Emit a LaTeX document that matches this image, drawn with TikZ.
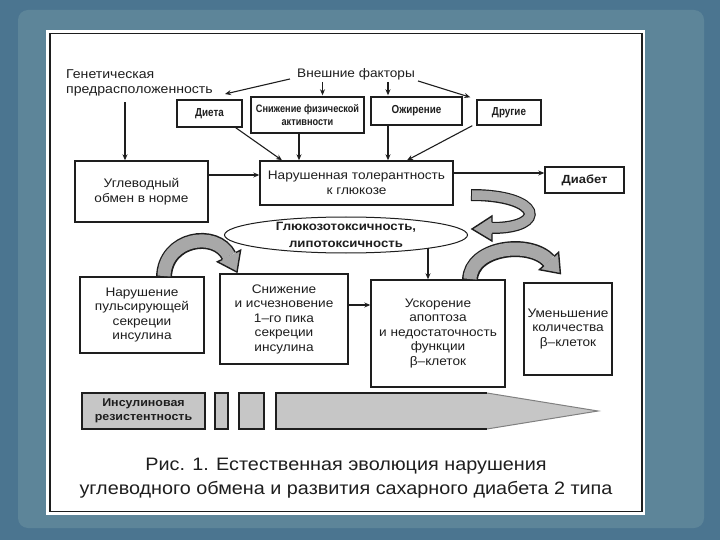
\documentclass[tikz,border=0pt]{standalone}
\usepackage{fontspec}
\setmainfont{Liberation Sans}[FakeStretch=1.1]
\newfontfamily\condf{Liberation Sans}[FakeStretch=0.85]
\usetikzlibrary{arrows.meta,shapes.geometric,calc}
\definecolor{bgblue}{HTML}{4B7590}
\definecolor{bglight}{HTML}{5D8599}
\definecolor{ribgray}{HTML}{A8A8A8}
\definecolor{bargray}{HTML}{C6C6C6}
\definecolor{ink}{HTML}{1E1E1E}
\tikzset{
  box/.style={draw=ink, line width=1.4pt, fill=white, inner sep=0pt, align=center, text=ink,
    font=\fontsize{12.4}{14.5}\selectfont},
  sbox/.style={box, font=\condf\bfseries\fontsize{11.6}{13}\selectfont},
  con/.style={draw=ink, line width=1.1pt, -{Stealth[length=6pt,width=5pt]}},
  ribout/.style={line width=16pt, ink},
  ribin/.style={line width=13pt, ribgray},
  ribfill/.style={fill=ribgray},
  ribedge/.style={draw=ink, line width=1.4pt, line join=miter},
  barbox/.style={draw=ink, fill=bargray, line width=1.4pt, inner sep=0pt, minimum height=36pt},
}
\begin{document}
\begin{tikzpicture}[x=1pt,y=-1pt]
\useasboundingbox (0,0) rectangle (720,540);
\fill[bgblue] (0,0) rectangle (720,540);
\fill[bglight, rounded corners=10pt] (18,10) rectangle (704,528);
\fill[white] (46,30) rectangle (645,515);
\draw[ink, line width=1.5pt] (50,33.5) rectangle (642,511.5);

% top texts
\node[anchor=west, align=left, text=ink, inner sep=0pt, font=\fontsize{12.8}{15}\selectfont] (gen) at (66,83) {Генетическая\\предрасположенность};
\node[text=ink, inner sep=0pt, font=\fontsize{12.4}{15}\selectfont] (ext) at (356,74) {Внешние факторы};

% factor boxes
\node[sbox, minimum width=65pt, minimum height=27pt] (diet) at (209.5,113.5) {Диета};
\node[sbox, minimum width=113pt, minimum height=36pt, font=\condf\bfseries\fontsize{10.8}{13}\selectfont] (snf) at (307.5,115) {Снижение физической\\активности};
\node[sbox, minimum width=91pt, minimum height=28pt] (ob) at (416.5,111) {Ожирение};
\node[sbox, minimum width=64pt, minimum height=25pt] (oth) at (509,112.5) {Другие};

% middle row
\node[box, minimum width=133pt, minimum height=61pt, font=\fontsize{12.4}{15}\selectfont] (ugl) at (141.5,191.5) {Углеводный\\обмен в норме};
\node[box, minimum width=193pt, minimum height=44pt, font=\fontsize{12.4}{15}\selectfont] (nar) at (356.5,183) {Нарушенная толерантность\\к глюкозе};
\node[box, minimum width=79pt, minimum height=26pt, font=\bfseries\fontsize{11.8}{14}\selectfont] (dia) at (584.5,180) {Диабет};

\node[ellipse, draw=ink, line width=1pt, fill=white, minimum width=243pt, minimum height=36pt, inner sep=0pt, align=center, text=ink,
  font=\bfseries\fontsize{12}{17}\selectfont] (glu) at (346,235) {Глюкозотоксичность,\\липотоксичность};

% bottom row
\node[box, minimum width=124pt, minimum height=76pt] (pul) at (142,315) {Нарушение\\пульсирующей\\секреции\\инсулина};
\node[box, minimum width=128pt, minimum height=90pt] (sni) at (284,319) {Снижение\\и исчезновение\\1–го пика\\секреции\\инсулина};
\node[box, minimum width=134pt, minimum height=107pt] (usk) at (438,333.5) {Ускорение\\апоптоза\\и недостаточность\\функции\\β–клеток};
\node[box, minimum width=88pt, minimum height=92pt] (umn) at (568,329) {Уменьшение\\количества\\β–клеток};

% connectors
\coordinate (dietin) at (225,94);
\draw[con] ([xshift=-7pt,yshift=1pt]ext.south west) -- (dietin);
\draw[con] ([xshift=15pt,yshift=-2pt]snf.north |- ext.south) -- ([xshift=15pt,yshift=1pt]snf.north);
\draw[con] ([xshift=-28.5pt,yshift=-2pt]ob.north |- ext.south) -- ([xshift=-28.5pt,yshift=1pt]ob.north);
\draw[con] ([xshift=3pt,yshift=-1pt]ext.south east) -- ([xshift=-6pt,yshift=2pt]oth.north west);
\draw[con] ([xshift=-16.5pt,yshift=-6pt]ugl.north |- gen.south) -- ([xshift=-16.5pt]ugl.north);
\draw[con] ([xshift=-7pt]diet.south east) -- ([xshift=-74.5pt]nar.north);
\draw[con] ([xshift=-8.5pt]snf.south) -- ([xshift=-8.5pt]snf.south |- nar.north);
\draw[con] ([xshift=-28.5pt]ob.south) -- ([xshift=-28.5pt]ob.south |- nar.north);
\draw[con] ([xshift=-4pt]oth.south west) -- ([xshift=50.5pt]nar.north);
\draw[con] ([yshift=16.5pt]ugl.east) -- ([yshift=16.5pt]ugl.east -| nar.west);
\draw[con] ([yshift=10pt]nar.east) -- ([yshift=10pt]nar.east -| dia.west);
\path (glu.center) ++(82,13.3) coordinate (gluout);
\draw[con] (gluout) -- (gluout |- usk.north);
\draw[con] ([yshift=14pt]sni.east) -- ([yshift=14pt]sni.east -| usk.west);

% ribbon arrow 1: around from tolerance box to ellipse
\draw[line width=12pt, ink] (471,195) .. controls (542,195) and (548,228) .. (492,228);
\draw[line width=9.5pt, ribgray, shorten <=1pt] (471,195) .. controls (542,195) and (548,228) .. (492,228);
\fill[ribfill] (492,216) -- (472,229) -- (492,241) -- cycle;
\draw[ribedge] (492,222.5) -- (492,216) -- (472,229) -- (492,241) -- (492,233.5);

% ribbon arrow 2: left bottom
\draw[ribout] (164,277) .. controls (165,238) and (216,230) .. (229,256);
\draw[ribin, shorten <=1pt] (164,277) .. controls (165,238) and (216,230) .. (229,256);
\fill[ribfill] (217.4,261.8) -- (237,272.1) -- (240.6,250.2) -- cycle;
\draw[ribedge] (222.3,259.4) -- (217.4,261.8) -- (237,272.1) -- (240.6,250.2) -- (235.7,252.6);

% ribbon arrow 3: right bottom
\draw[ribout] (470,280) .. controls (471,247) and (530,240) .. (549,261);
\draw[ribin, shorten <=1pt] (470,280) .. controls (471,247) and (530,240) .. (549,261);
\fill[ribfill] (539.4,269.7) -- (560.4,273.6) -- (558.6,252.3) -- cycle;
\draw[ribedge] (543.8,265.7) -- (539.4,269.7) -- (560.4,273.6) -- (558.6,252.3) -- (554.2,256.3);

% bottom bar
\node[barbox, minimum width=123pt, align=center, text=ink, font=\bfseries\fontsize{11.3}{14}\selectfont] (ins) at (143.5,411) {Инсулиновая\\резистентность};
\node[barbox, minimum width=13pt] (b1) at (221.5,411) {};
\node[barbox, minimum width=25pt] (b2) at (251.5,411) {};
\fill[bargray] (276,393) -- (487,393) -- (598,411) -- (487,429) -- (276,429) -- cycle;
\draw[gray, line width=1pt] (487,393) -- (598,411) -- (487,429);
\draw[ink, line width=1.4pt] (487,393) -- (276,393) -- (276,429) -- (487,429);

% caption
\node[align=center, text=ink, inner sep=0pt, font=\fontsize{18}{24}\selectfont] (cap) at (346,478) {Рис. 1. Естественная эволюция нарушения\\углеводного обмена и развития сахарного диабета 2 типа};
\end{tikzpicture}
\end{document}
